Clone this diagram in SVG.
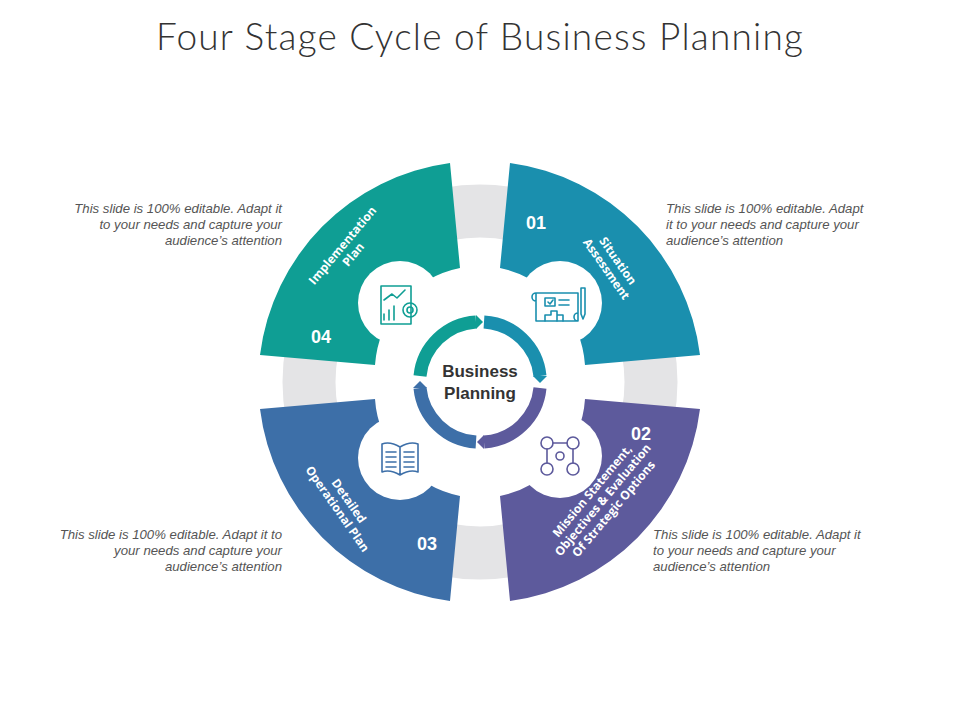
<svg xmlns="http://www.w3.org/2000/svg" width="960" height="720" viewBox="0 0 960 720">
<style>
.t{font-family:"Open Sans","Liberation Sans",sans-serif;fill:#fff;font-weight:700;font-size:12px;text-anchor:middle}
.n{font-family:"Liberation Sans",Arial,sans-serif;fill:#fff;font-weight:bold;font-size:18px;text-anchor:middle}
.d{font-family:"Liberation Sans",Arial,sans-serif;fill:#555;font-style:italic;font-size:13.2px}
.ic{fill:none;stroke-width:1.6;stroke-linejoin:round;stroke-linecap:round}
</style>
<rect width="960" height="720" fill="#fff"/>
<text x="480" y="50" text-anchor="middle" font-family="Lato,'Liberation Sans',sans-serif" font-weight="300" font-size="37" letter-spacing="1.2" fill="#333">Four Stage Cycle of Business Planning</text>
<circle cx="480" cy="382" r="171" fill="none" stroke="#e4e4e6" stroke-width="53"/>
<g id="seg1"><path d="M510,163 A221,221 0 0 1 700,355 L585,365 A106,106 0 0 0 500,268 Z" fill="#1a8fae"/><circle cx="560" cy="303" r="42" fill="#fff"/>
<text class="n" x="536" y="229">01</text>
<text class="t" transform="translate(612,265) rotate(55)"><tspan x="0" y="-3">Situation</tspan><tspan x="0" y="11">Assessment</tspan></text>
<g class="ic" stroke="#1a8fae"><path d="M536,293 h42 v28 h-42 z M536,293 a4,4 0 0 0 0,8 M578,321 a4,4 0 0 1 0,-8"/><rect x="545" y="298" width="10" height="8"/><path d="M548,302 l2,2 l3,-4 M559,300 h10 M559,305 h10 M545,321 v-6 h6 v-4 h6 v10 M557,315 h6 v6"/><path d="M581,288 v26 l2,5 l2,-5 v-26 z"/></g>
</g>
<g id="seg2"><path d="M700,409 A221,221 0 0 1 510,601 L500,496 A106,106 0 0 0 585,399 Z" fill="#5d5a9c"/><circle cx="560" cy="456" r="42" fill="#fff"/>
<text class="n" x="641" y="440">02</text>
<text class="t" transform="translate(603,500) rotate(-50)"><tspan x="0" y="-10">Mission Statement,</tspan><tspan x="0" y="4">Objectives &amp; Evaluation</tspan><tspan x="0" y="18">Of Strategic Options</tspan></text>
<g class="ic" stroke="#5d5a9c"><circle cx="547" cy="443" r="6"/><circle cx="573" cy="443" r="6"/><circle cx="547" cy="469" r="6"/><circle cx="573" cy="469" r="6"/><circle cx="560" cy="456" r="4"/><path d="M553,443 h14 M547,449 v14 M573,449 v14"/></g>
</g>
<g id="seg3"><path d="M450,601 A221,221 0 0 1 260,409 L375,399 A106,106 0 0 0 460,496 Z" fill="#3d6fa8"/><circle cx="400" cy="458" r="42" fill="#fff"/>
<text class="n" x="427" y="550">03</text>
<text class="t" transform="translate(343,505) rotate(55)"><tspan x="0" y="-3">Detailed</tspan><tspan x="0" y="11">Operational Plan</tspan></text>
<g class="ic" stroke="#3d6fa8"><path d="M400,447 q-10,-6 -18,-3 v28 q8,-3 18,3 q10,-6 18,-3 v-28 q-8,-3 -18,3 z M400,447 v28 M386,452 h10 M386,457 h10 M386,462 h10 M386,467 h10 M404,452 h10 M404,457 h10 M404,462 h10 M404,467 h10"/></g>
</g>
<g id="seg4"><path d="M260,355 A221,221 0 0 1 450,163 L460,268 A106,106 0 0 0 375,365 Z" fill="#0f9e94"/><circle cx="400" cy="303" r="42" fill="#fff"/>
<text class="n" x="321" y="343">04</text>
<text class="t" transform="translate(348,250) rotate(-50)"><tspan x="0" y="-3">Implementation</tspan><tspan x="0" y="11">Plan</tspan></text>
<g class="ic" stroke="#0f9e94"><path d="M381,286 h30 v38 h-30 z M384,320 v-6 M389,320 v-10 M394,320 v-14 M384,300 l8,-6 l5,4 l8,-8"/><circle cx="410" cy="310" r="7"/><circle cx="410" cy="310" r="3"/></g>
</g>
<g id="connectors" fill="none" stroke-width="13">
<path d="M420,376 A60,60 0 0 1 476,322" stroke="#0f9e94"/>
<path d="M484,322 A60,60 0 0 1 540,376" stroke="#1a8fae"/>
<path d="M540,388 A60,60 0 0 1 484,442" stroke="#5d5a9c"/>
<path d="M476,442 A60,60 0 0 1 420,388" stroke="#3d6fa8"/>
<polygon points="476,315 483,322 476,329" fill="#0f9e94" stroke="none"/>
<polygon points="533,376 540,383 547,376" fill="#1a8fae" stroke="none"/>
<polygon points="484,435 477,442 484,449" fill="#5d5a9c" stroke="none"/>
<polygon points="413,388 420,381 427,388" fill="#3d6fa8" stroke="none"/>
</g>
<text x="480" y="377" text-anchor="middle" font-family="'Liberation Sans',Arial,sans-serif" font-weight="bold" font-size="17" fill="#333">Business</text>
<text x="480" y="399" text-anchor="middle" font-family="'Liberation Sans',Arial,sans-serif" font-weight="bold" font-size="17" fill="#333">Planning</text>
<g class="d" text-anchor="end"><text x="282" y="213">This slide is 100% editable. Adapt it</text><text x="282" y="229">to your needs and capture your</text><text x="282" y="245">audience’s attention</text>
<text x="282" y="539">This slide is 100% editable. Adapt it to</text><text x="282" y="555">your needs and capture your</text><text x="282" y="571">audience’s attention</text></g>
<g class="d"><text x="666" y="213">This slide is 100% editable. Adapt</text><text x="666" y="229">it to your needs and capture your</text><text x="666" y="245">audience’s attention</text>
<text x="653" y="539">This slide is 100% editable. Adapt it</text><text x="653" y="555">to your needs and capture your</text><text x="653" y="571">audience’s attention</text></g>
</svg>
